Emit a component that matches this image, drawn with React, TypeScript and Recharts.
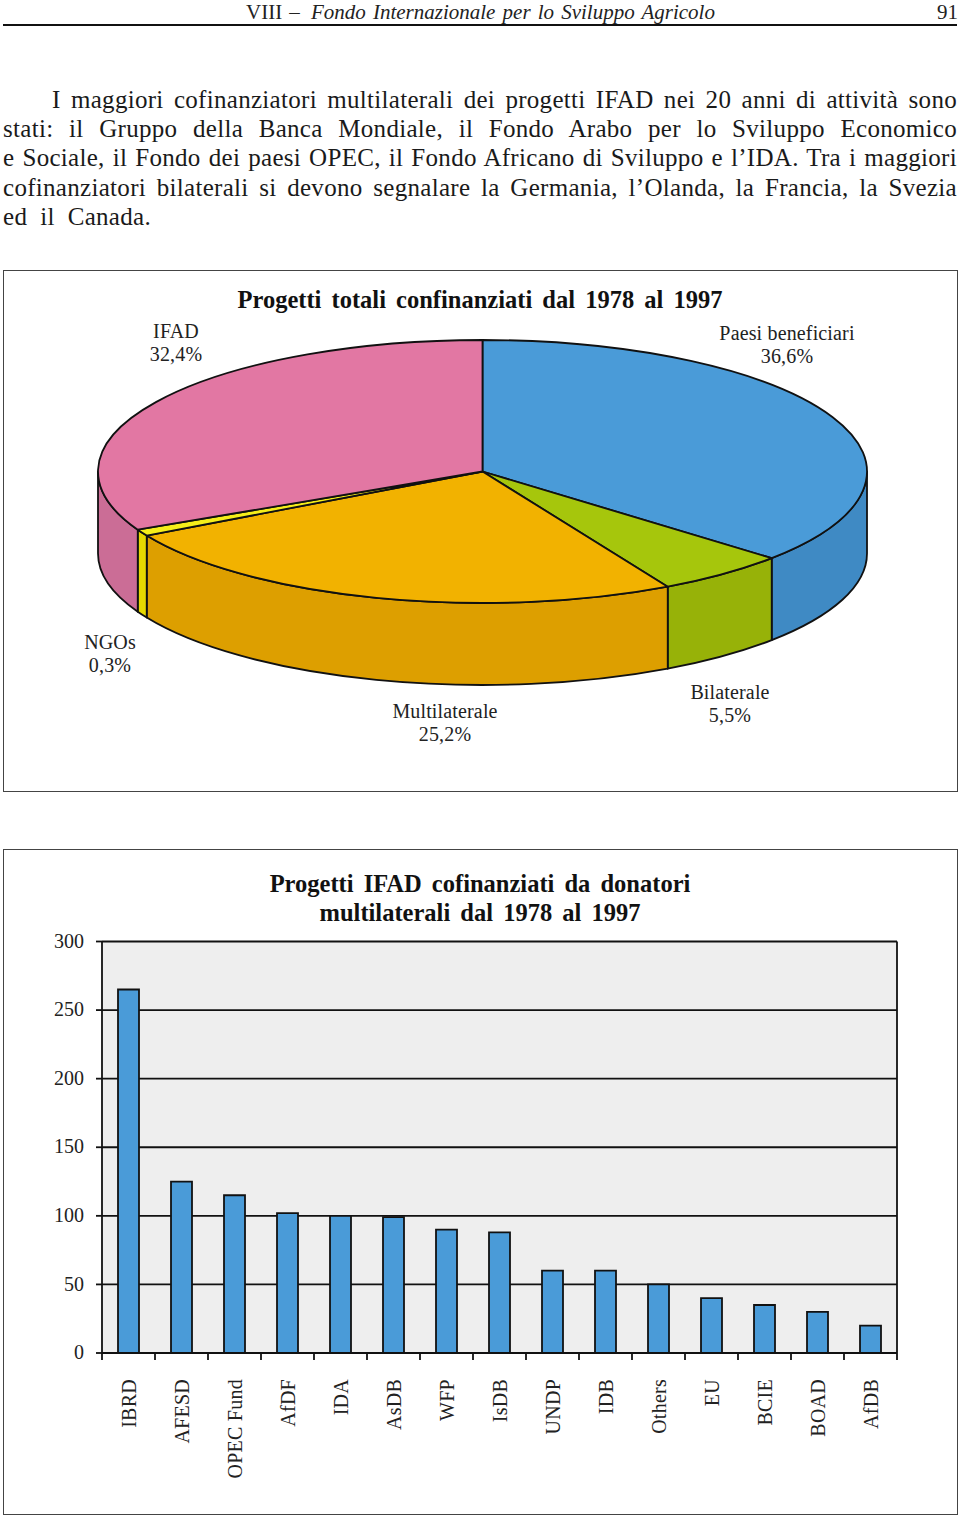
import React from 'react';
import { PieChart, Pie, BarChart, Bar, XAxis, YAxis, CartesianGrid } from 'recharts';

const serif = '"Liberation Serif", serif';

// slice sizes are measured off the drawing, printed labels are kept apart
const pieNames = ['Paesi beneficiari', 'Bilaterale', 'Multilaterale', 'NGOs', 'IFAD'];
const pieValues = [36.45, 5.55, 24.9, 0.8, 32.3];
const pieLabels = ['36,6%', '5,5%', '25,2%', '0,3%', '32,4%'];
const pieTopColors = ['#4a9bd8', '#a6c60c', '#f2b200', '#f5ee1a', '#e277a3'];
const pieWallColors = ['#3f8ac4', '#97b208', '#dd9f00', '#e6d800', '#cb6d96'];
const pieLabelSpots = [
  [787, 334],
  [730, 693],
  [445, 712],
  [110, 643],
  [176, 332],
];

const donors = ['IBRD', 'AFESD', 'OPEC Fund', 'AfDF', 'IDA', 'AsDB', 'WFP', 'IsDB', 'UNDP', 'IDB', 'Others', 'EU', 'BCIE', 'BOAD', 'AfDB'];
const projects = [265, 125, 115, 102, 100, 99, 90, 88, 60, 60, 50, 40, 35, 30, 20];
const yTicks = [0, 50, 100, 150, 200, 250, 300];

const paragraph = [
  'I maggiori cofinanziatori multilaterali dei progetti IFAD nei 20 anni di attività sono',
  'stati: il Gruppo della Banca Mondiale, il Fondo Arabo per lo Sviluppo Economico',
  'e Sociale, il Fondo dei paesi OPEC, il Fondo Africano di Sviluppo e l’IDA. Tra i maggiori',
  'cofinanziatori bilaterali si devono segnalare la Germania, l’Olanda, la Francia, la Svezia',
];

const topData = pieNames.map((name, i) => ({ name, value: pieValues[i], fill: pieTopColors[i] }));
const wallData = pieNames.map((name, i) => ({ name, value: pieValues[i], fill: pieWallColors[i] }));
const barData = donors.map((name, i) => ({ name, value: projects[i] }));

const SQUASH = 131.5 / 384.5;
const DEPTH = 82;

const rim = (cx: number, cy: number, r: number, deg: number) => {
  const a = (deg * Math.PI) / 180;
  return [cx + r * Math.cos(a), cy - r * SQUASH * Math.sin(a)];
};

const TopSlice = (props: any) => {
  const { cx, cy, outerRadius: r, startAngle, endAngle, fill } = props;
  const [x0, y0] = rim(cx, cy, r, startAngle);
  const [x1, y1] = rim(cx, cy, r, endAngle);
  const large = Math.abs(startAngle - endAngle) > 180 ? 1 : 0;
  const d = `M${cx},${cy} L${x0},${y0} A${r},${r * SQUASH} 0 ${large} 1 ${x1},${y1} Z`;
  return <path d={d} fill={fill} stroke="#111" strokeWidth={1.8} strokeLinejoin="round" />;
};

// only the front half of the rim has a visible wall
const WallSlice = (props: any) => {
  const { cx, cy, outerRadius: r, startAngle, endAngle, fill } = props;
  const from = Math.min(startAngle, 0);
  const to = Math.max(endAngle, -180);
  if (from <= to) return <g />;
  const [x0, y0] = rim(cx, cy, r, from);
  const [x1, y1] = rim(cx, cy, r, to);
  const ry = r * SQUASH;
  const d = `M${x0},${y0} A${r},${ry} 0 0 1 ${x1},${y1} L${x1},${y1 + DEPTH} A${r},${ry} 0 0 0 ${x0},${y0 + DEPTH} Z`;
  return <path d={d} fill={fill} stroke="#111" strokeWidth={1.8} strokeLinejoin="round" />;
};

const DonorTick = (props: any) => {
  const { x, y, payload, index } = props;
  const band = 53;
  return (
    <g>
      <line x1={x - band / 2} x2={x - band / 2} y1={y - 8} y2={y - 1} stroke="#111" strokeWidth={1.8} />
      {index === donors.length - 1 && (
        <line x1={x + band / 2} x2={x + band / 2} y1={y - 8} y2={y - 1} stroke="#111" strokeWidth={1.8} />
      )}
      <text
        x={x}
        y={y + 18}
        transform={`rotate(-90 ${x} ${y + 18})`}
        textAnchor="end"
        dominantBaseline="central"
        fontFamily={serif}
        fontSize={20}
        letterSpacing={0.25}
        fill="#222"
      >
        {payload.value}
      </text>
    </g>
  );
};

const Frame = ({ top, height }: { top: number; height: number }) => (
  <div style={{ position: 'absolute', left: 3, top, width: 953, height, border: '1.5px solid #444', boxSizing: 'content-box' }} />
);

const Line = ({ top, children, style }: { top: number; children: React.ReactNode; style?: React.CSSProperties }) => (
  <div style={{ position: 'absolute', top, left: 3, width: 954, fontFamily: serif, fontSize: 25, letterSpacing: 0.3, lineHeight: '30px', color: '#1a1a1a', whiteSpace: 'nowrap', textAlign: 'justify', textAlignLast: 'justify', ...style }}>
    {children}
  </div>
);

const Title = ({ top, text }: { top: number; text: string }) => (
  <div style={{ position: 'absolute', top, left: 0, width: 960, textAlign: 'center', fontFamily: serif, fontSize: 24.5, fontWeight: 'bold', lineHeight: '30px', color: '#111', wordSpacing: 4 }}>
    {text}
  </div>
);

export default function App() {
  return (
    <div style={{ position: 'absolute', left: 0, top: 0, width: 960, height: 1516, overflow: 'hidden', background: '#fff' }}>
      <div style={{ position: 'absolute', left: 246, top: 0, fontFamily: serif, fontSize: 21, lineHeight: '24px', color: '#222', wordSpacing: 1.9, whiteSpace: 'nowrap' }}>
        VIII – <i style={{ marginLeft: 4 }}>Fondo Internazionale per lo Sviluppo Agricolo</i>
      </div>
      <div style={{ position: 'absolute', left: 937, top: 0, fontFamily: serif, fontSize: 21, lineHeight: '24px', color: '#222' }}>91</div>
      <div style={{ position: 'absolute', left: 3, top: 24, width: 954, height: 1.5, background: '#111' }} />

      <Line top={85} style={{ left: 52, width: 905 }}>{paragraph[0]}</Line>
      <Line top={114}>{paragraph[1]}</Line>
      <Line top={143}>{paragraph[2]}</Line>
      <Line top={173}>{paragraph[3]}</Line>
      <Line top={202} style={{ width: 148 }}>ed il Canada.</Line>

      <Frame top={270} height={520} />
      <div style={{ position: 'absolute', left: 0, top: 270 }}>
        <PieChart width={960} height={522} margin={{ top: 0, right: 0, bottom: 0, left: 0 }}>
          <Pie data={wallData} dataKey="value" nameKey="name" cx={482.5} cy={201.5} outerRadius={384.5} startAngle={90} endAngle={-270} shape={WallSlice} isAnimationActive={false} />
          <Pie data={topData} dataKey="value" nameKey="name" cx={482.5} cy={201.5} outerRadius={384.5} startAngle={90} endAngle={-270} shape={TopSlice} isAnimationActive={false} />
        </PieChart>
      </div>
      <Title top={285} text="Progetti totali confinanziati dal 1978 al 1997" />
      {pieNames.map((name, i) => (
        <div key={name} style={{ position: 'absolute', left: pieLabelSpots[i][0] - 100, top: pieLabelSpots[i][1] - 12, width: 200, textAlign: 'center', fontFamily: serif, fontSize: 20, letterSpacing: 0.15, lineHeight: '23px', color: '#222' }}>
          {name}
          <br />
          {pieLabels[i]}
        </div>
      ))}

      <Frame top={849} height={664} />
      <div style={{ position: 'absolute', left: 0, top: 849 }}>
        <BarChart width={960} height={666} data={barData} barSize={21} margin={{ top: 92.5, right: 63, bottom: 32, left: 0 }}>
          <CartesianGrid fill="#eeeeee" stroke="#111" strokeWidth={1.8} verticalPoints={[897]} />
          <XAxis dataKey="name" axisLine={{ stroke: '#111', strokeWidth: 1.8 }} tickLine={false} interval={0} height={130} tick={<DonorTick />} />
          <YAxis width={102} domain={[0, 300]} ticks={yTicks} axisLine={{ stroke: '#111', strokeWidth: 1.8 }} tickLine={{ stroke: '#111', strokeWidth: 1.8 }} tickSize={6} tickMargin={12} tick={{ fontFamily: serif, fontSize: 20, fill: '#222', dy: -1 }} />
          <Bar dataKey="value" fill="#4a9bd8" stroke="#111" strokeWidth={1.8} isAnimationActive={false} />
        </BarChart>
      </div>
      <Title top={869} text="Progetti IFAD cofinanziati da donatori" />
      <Title top={898} text="multilaterali dal 1978 al 1997" />
    </div>
  );
}
